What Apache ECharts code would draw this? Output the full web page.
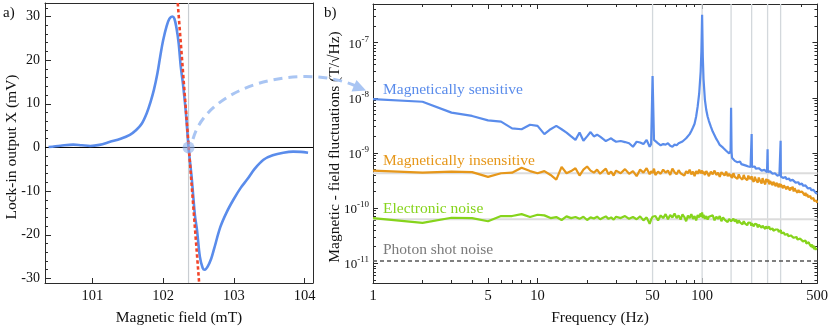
<!DOCTYPE html>
<html><head><meta charset="utf-8">
<script src="https://cdn.jsdelivr.net/npm/echarts@6/dist/echarts.min.js"></script>
<style>html,body{margin:0;padding:0;background:#fff}#c{width:831px;height:330px}</style>
</head><body><div id="c"></div><script>
// ---- panel a) data ----
const fieldMT = [100.38,100.55,100.73,100.85,100.97,101.1,101.25,101.4,101.53,101.62,101.7,101.77,101.82,101.87,101.92,101.96,102.0,102.05,102.09,102.13,102.16,102.19,102.22,102.25,102.28,102.32,102.36,102.405,102.45,102.48,102.52,102.56,102.59,102.63,102.68,102.72,102.81,102.9,103.0,103.1,103.19,103.3,103.42,103.55,103.7,103.84,103.95,104.05];
const lockinMV = [0.1,0.4,0.65,0.5,0.35,0.6,1.3,2.0,2.9,4.0,5.5,7.9,10.3,13.2,17,20.9,24.5,27.8,29.5,30.0,29.5,27.3,23.9,18.5,14.7,8.4,0,-7,-15.5,-19,-25,-27.6,-28,-27.3,-25.5,-23.3,-18.2,-14.8,-11.8,-9.2,-7.3,-4.8,-2.8,-1.8,-1.2,-0.95,-1.0,-1.2];
const tangentFieldMT = [102.207, 102.51];
const tangentMV = [33.1, -31.05];
const zeroCrossingMT = 102.36;
const leftYTicks = [-30,-20,-10,0,10,20,30];
const leftYMinor = [-28,-26,-24,-22,-18,-16,-14,-12,-8,-6,-4,-2,2,4,6,8,12,14,16,18,22,24,26,28,32];
const leftXTicks = [101,102,103,104];

// ---- panel b) data (T/sqrt(Hz) in pT units) ----
const freqHz = [1,2,3,4,5,6,7,8,9,10,
 11,12,13,14,15,16,17,18,19,20,
 21,22,23,24,25,26,27,28,29,30,
 32,34,36,38,40,42,44,46,48,49,
 50,51,52,54,56,58,60,62,64,66,
 68,70,72,74,76,78,80,82,84,86,
 88,90,92,94,96,98,99,100,101,102,
 104,106,108,110,113,116,119,122,125,128,
 131,134,137,140,143,146,148,149,150,151,
 152,155,158,161,164,167,170,173,176,179,
 182,185,188,191,194,197,199,200,201,203,
 206,209,212,215,218,221,224,227,230,233,
 236,239,242,245,248,249,250,251,253,256,
 259,262,265,268,271,274,277,280,283,286,
 289,292,295,298,299,300,301,303,306,310,
 314,318,322,326,330,334,338,342,346,350,
 355,360,365,370,375,380,385,390,395,400,
 405,410,415,420,425,430,435,440,445,450,
 455,460,465,470,475,480,485,490,495,500];
const sensitivePT = [9500,8500,5400,4700,3900,3700,2800,2700,3250,3100,
 2200,2700,3100,2700,2350,2000,1730,2350,1670,2000,
 2400,2000,2150,1980,1800,1650,1750,1850,1700,1600,
 1650,1580,1500,1300,1600,1550,1450,1730,1300,1450,
 25000,1730,1600,1500,1380,1450,1420,1500,1350,1300,
 1420,1380,1500,1480,1620,1730,1850,2000,2200,2500,
 2900,3400,4600,7000,12000,30000,70000,320000,55000,22000,
 9200,6000,4600,3800,3000,2450,2100,1800,1600,1400,
 1450,1250,1150,1100,1050,980,1000,1100,6600,1050,
 820,780,720,740,680,660,700,630,650,610,
 630,590,610,570,590,560,580,2200,560,580,
 540,570,520,545,505,530,490,515,480,505,
 470,495,460,485,450,465,1170,455,470,440,
 465,430,450,420,440,405,430,400,415,390,
 410,380,400,370,385,1660,375,365,390,355,
 375,345,365,335,350,325,345,315,330,305,
 325,300,315,290,305,280,295,270,285,262,
 278,255,268,245,258,238,250,228,240,220,
 232,212,222,205,215,198,206,190,198,182];
const insensitivePT = [480,440,460,450,370,430,440,540,470,430,
 470,400,330,560,430,470,530,390,500,570,
 480,440,500,420,470,520,410,460,390,480,
 430,510,420,470,380,500,440,530,410,470,
 430,520,400,460,420,500,440,480,400,520,
 450,410,490,430,460,390,470,430,500,410,
 460,380,470,420,500,430,450,480,420,460,
 400,470,430,380,460,410,480,400,440,370,
 450,420,390,460,380,420,390,430,370,410,
 350,430,370,400,340,410,360,390,330,400,
 350,380,320,390,340,370,330,380,340,360,
 300,370,330,350,290,360,320,340,280,350,
 310,330,270,340,300,320,280,310,330,270,
 310,290,320,260,300,280,310,250,290,270,
 300,240,280,260,290,240,270,250,280,230,
 260,240,270,220,250,230,255,210,240,220,
 245,200,230,210,225,190,215,195,210,180,
 200,185,195,170,190,165,180,160,172,150,
 165,148,158,140,152,135,145,128,138,125];
const electronicPT = [66,54,67,66,58,72,72,78,69,76,
 74,66,69,61,71,66,69,64,70,61,
 68,65,70,63,67,71,64,68,62,70,
 66,72,64,69,63,71,60,68,52,62,
 70,65,72,60,74,66,78,63,75,68,
 80,66,74,62,77,69,58,73,66,78,
 64,72,60,75,68,80,70,84,66,76,
 64,72,62,70,66,74,60,70,64,72,
 58,68,62,66,56,64,60,66,58,62,
 55,64,57,62,53,60,55,59,51,58,
 53,56,49,55,51,54,48,53,50,52,
 47,52,48,51,45,50,47,49,44,48,
 45,48,42,47,43,46,42,45,44,46,
 41,44,40,43,39,42,38,41,40,38,
 41,37,40,36,39,37,40,35,38,34,
 36,33,35,32,34,31,33,30,32,31,
 32,29,31,28,30,27,29,26,28,27,
 28,25,27,24,26,23,25,22,24,22,
 23,20,22,19,21,18,20,17.5,19,17];
const photonShotT = 1.1e-11;
const insensitiveLevelT = 4.3e-10;
const electronicLevelT = 6.3e-11;
const harmonicsHz = [50,100,150,200,250,300];
const freqTickLabels = [1,5,10,50,100,500];
const freqMinorTicks = [2,3,4,6,7,8,9,20,30,40,60,70,80,90,200,300,400];
const psdExpTicks = [-11,-10,-9,-8,-7];

// ---- styling ----
const SERIF = "'Liberation Serif','Times New Roman',serif";
const BLUE = '#5A8CEB', ORANGE = '#E6971A', GREEN = '#86D41C';
const FRAME = '#2b2b2b';
const lg = Math.log10;
const PT = 1e-12;

const psd = arr => freqHz.map((f, i) => [lg(f), lg(arr[i] * PT)]);
const psdMinor = [];
for (let n = -12; n <= -7; n++) for (let k = 2; k <= 9; k++) psdMinor.push(n + lg(k));

const chart = echarts.init(document.getElementById('c'), null, {renderer: 'canvas'});

const ax = (o) => Object.assign({
  type: 'value', splitLine: {show: false},
  axisLine: {show: false, onZero: false, lineStyle: {color: FRAME, width: 1}},
  axisTick: {show: false}, axisLabel: {show: false}
}, o);
const tick = (vals, len) => ({show: true, inside: true, length: len, customValues: vals, lineStyle: {color: FRAME, width: 1}});

const LX = [100.33, 104.12], LY = [-31.05, 33.1];
const RX = [0, lg(500) + 0.002], RY = [-11.357, -6.298];

// reference / guide lines drawn as plain two-point series beneath the curves
const guide = (xi, yi, pts, color, width, type, z) => ({
  type: 'line', xAxisIndex: xi, yAxisIndex: yi, z: z || 1, silent: true, showSymbol: false,
  data: pts, lineStyle: {color: color, width: width, type: type || 'solid'}
});

const series = [
  guide(0, 0, [[zeroCrossingMT, LY[0]], [zeroCrossingMT, LY[1]]], '#c9cdd2', 1.2),
  guide(0, 0, [[LX[0], 0], [LX[1], 0]], '#000', 1),
  {type: 'line', xAxisIndex: 0, yAxisIndex: 0, z: 3, smooth: 0.35, showSymbol: false,
   data: fieldMT.map((x, i) => [x, lockinMV[i]]),
   lineStyle: {color: BLUE, width: 2.6}},
  {type: 'line', xAxisIndex: 0, yAxisIndex: 0, z: 4, showSymbol: false,
   data: tangentFieldMT.map((x, i) => [x, tangentMV[i]]),
   lineStyle: {color: '#F2452A', width: 2.6, type: [3.5, 2.5]}},
  {type: 'scatter', xAxisIndex: 0, yAxisIndex: 0, z: 5, symbolSize: 12,
   data: [[zeroCrossingMT, 0]], itemStyle: {color: 'rgba(140,175,235,0.75)'}}
];
harmonicsHz.forEach(h => series.push(guide(2, 3, [[lg(h), RY[0]], [lg(h), RY[1]]], '#d3d8dc', 1.3)));
series.push(guide(2, 3, [[RX[0], lg(insensitiveLevelT)], [RX[1], lg(insensitiveLevelT)]], '#dcdcdc', 2));
series.push(guide(2, 3, [[RX[0], lg(electronicLevelT)], [RX[1], lg(electronicLevelT)]], '#dcdcdc', 2));
series.push(guide(2, 3, [[RX[0], lg(photonShotT)], [RX[1], lg(photonShotT)]], '#555', 1.6, [4, 3], 2));
series.push({type: 'line', xAxisIndex: 2, yAxisIndex: 3, z: 3, showSymbol: false, data: psd(sensitivePT),
   lineStyle: {color: BLUE, width: 2.2}});
series.push({type: 'line', xAxisIndex: 2, yAxisIndex: 3, z: 4, showSymbol: false, data: psd(insensitivePT),
   lineStyle: {color: ORANGE, width: 2.2}});
series.push({type: 'line', xAxisIndex: 2, yAxisIndex: 3, z: 4, showSymbol: false, data: psd(electronicPT),
   lineStyle: {color: GREEN, width: 2.2}});

const option = {
  animation: false,
  backgroundColor: '#fff',
  grid: [
    {left: 45, top: 3, width: 268, height: 280},
    {left: 373, top: 4, width: 453, height: 279}
  ],
  xAxis: [
    ax({gridIndex: 0, position: 'bottom', min: LX[0], max: LX[1],
        axisLine: {show: true, onZero: false, lineStyle: {color: FRAME}},
        axisTick: tick(leftXTicks, 5),
        axisLabel: {show: true, customValues: leftXTicks, margin: 6, fontFamily: SERIF, fontSize: 14.5, color: '#111'}}),
    ax({gridIndex: 0, position: 'top', min: LX[0], max: LX[1],
        axisLine: {show: true, onZero: false, lineStyle: {color: FRAME}}}),
    ax({gridIndex: 1, position: 'bottom', min: RX[0], max: RX[1],
        axisLine: {show: true, onZero: false, lineStyle: {color: FRAME}},
        axisTick: tick(freqTickLabels.map(lg), 5),
        axisLabel: {show: true, customValues: freqTickLabels.map(lg), margin: 6, fontFamily: SERIF, fontSize: 14.5, color: '#111',
          alignMinLabel: 'center', alignMaxLabel: 'center', hideOverlap: false,
          formatter: v => String(Math.round(Math.pow(10, v)))}}),
    ax({gridIndex: 1, position: 'bottom', min: RX[0], max: RX[1], axisTick: tick(freqMinorTicks.map(lg), 3)}),
    ax({gridIndex: 1, position: 'top', min: RX[0], max: RX[1],
        axisLine: {show: true, onZero: false, lineStyle: {color: FRAME}},
        axisTick: tick(freqTickLabels.map(lg), 5)}),
    ax({gridIndex: 1, position: 'top', min: RX[0], max: RX[1], axisTick: tick(freqMinorTicks.map(lg), 3)})
  ],
  yAxis: [
    ax({gridIndex: 0, position: 'left', min: LY[0], max: LY[1],
        axisLine: {show: true, onZero: false, lineStyle: {color: FRAME}},
        axisTick: tick(leftYTicks, 6),
        axisLabel: {show: true, customValues: leftYTicks, margin: 5, fontFamily: SERIF, fontSize: 14, color: '#111'}}),
    ax({gridIndex: 0, position: 'left', min: LY[0], max: LY[1], axisTick: tick(leftYMinor, 3)}),
    ax({gridIndex: 0, position: 'right', min: LY[0], max: LY[1],
        axisLine: {show: true, onZero: false, lineStyle: {color: FRAME}}}),
    ax({gridIndex: 1, position: 'left', min: RY[0], max: RY[1],
        axisLine: {show: true, onZero: false, lineStyle: {color: FRAME}},
        axisTick: tick(psdExpTicks, 5),
        axisLabel: {show: true, customValues: psdExpTicks, margin: 4, color: '#111',
          formatter: v => '{b|10}{s|' + Math.round(v) + '}',
          rich: {
            b: {fontFamily: SERIF, fontSize: 13, lineHeight: 16, verticalAlign: 'bottom', color: '#111'},
            s: {fontFamily: SERIF, fontSize: 9, lineHeight: 12, verticalAlign: 'top', color: '#111'}
          }}}),
    ax({gridIndex: 1, position: 'left', min: RY[0], max: RY[1], axisTick: tick(psdMinor.filter(v => v > RY[0] && v < RY[1]), 3)}),
    ax({gridIndex: 1, position: 'right', min: RY[0], max: RY[1],
        axisLine: {show: true, onZero: false, lineStyle: {color: FRAME}},
        axisTick: tick(psdExpTicks, 5)}),
    ax({gridIndex: 1, position: 'right', min: RY[0], max: RY[1], axisTick: tick(psdMinor.filter(v => v > RY[0] && v < RY[1]), 3)})
  ],
  series: series,
  graphic: [
    {type: 'text', left: 3, top: 6, style: {text: 'a)', font: '15px ' + SERIF, fill: '#111'}},
    {type: 'text', left: 324, top: 6, style: {text: 'b)', font: '15px ' + SERIF, fill: '#111'}},
    {type: 'text', x: 12, y: 147, rotation: Math.PI / 2, style: {text: 'Lock-in output X (mV)', font: '15.5px ' + SERIF, fill: '#111', align: 'center', verticalAlign: 'middle'}},
    {type: 'text', x: 179, y: 318, style: {text: 'Magnetic field (mT)', font: '15.5px ' + SERIF, fill: '#111', align: 'center', verticalAlign: 'middle'}},
    {type: 'text', x: 335, y: 147, rotation: Math.PI / 2, style: {text: 'Magnetic - field fluctuations (T/\u221AHz)', font: '15.5px ' + SERIF, fill: '#111', align: 'center', verticalAlign: 'middle'}},
    {type: 'text', x: 600, y: 318, style: {text: 'Frequency (Hz)', font: '15.5px ' + SERIF, fill: '#111', align: 'center', verticalAlign: 'middle'}},
    {type: 'text', x: 383, y: 90, style: {text: 'Magnetically sensitive', font: '15.5px ' + SERIF, fill: BLUE, align: 'left', verticalAlign: 'middle'}},
    {type: 'text', x: 383, y: 160.5, style: {text: 'Magnetically insensitive', font: '15.5px ' + SERIF, fill: ORANGE, align: 'left', verticalAlign: 'middle'}},
    {type: 'text', x: 383, y: 208.5, style: {text: 'Electronic noise', font: '15.5px ' + SERIF, fill: GREEN, align: 'left', verticalAlign: 'middle'}},
    {type: 'text', x: 383, y: 250, style: {text: 'Photon shot noise', font: '15.5px ' + SERIF, fill: '#7a7a7a', align: 'left', verticalAlign: 'middle'}},
    {type: 'bezierCurve', z: 10, shape: {x1: 193, y1: 139, cpx1: 208, cpy1: 85, cpx2: 300, cpy2: 62, x2: 356, y2: 86},
     style: {stroke: '#A9C5F3', lineWidth: 3, lineDash: [9, 6], fill: null}},
    {type: 'polygon', z: 10, shape: {points: [[366, 90.5], [351.5, 91.5], [356.5, 80]]}, style: {fill: '#A9C5F3'}}
  ]
};
chart.setOption(option);
</script></body></html>
